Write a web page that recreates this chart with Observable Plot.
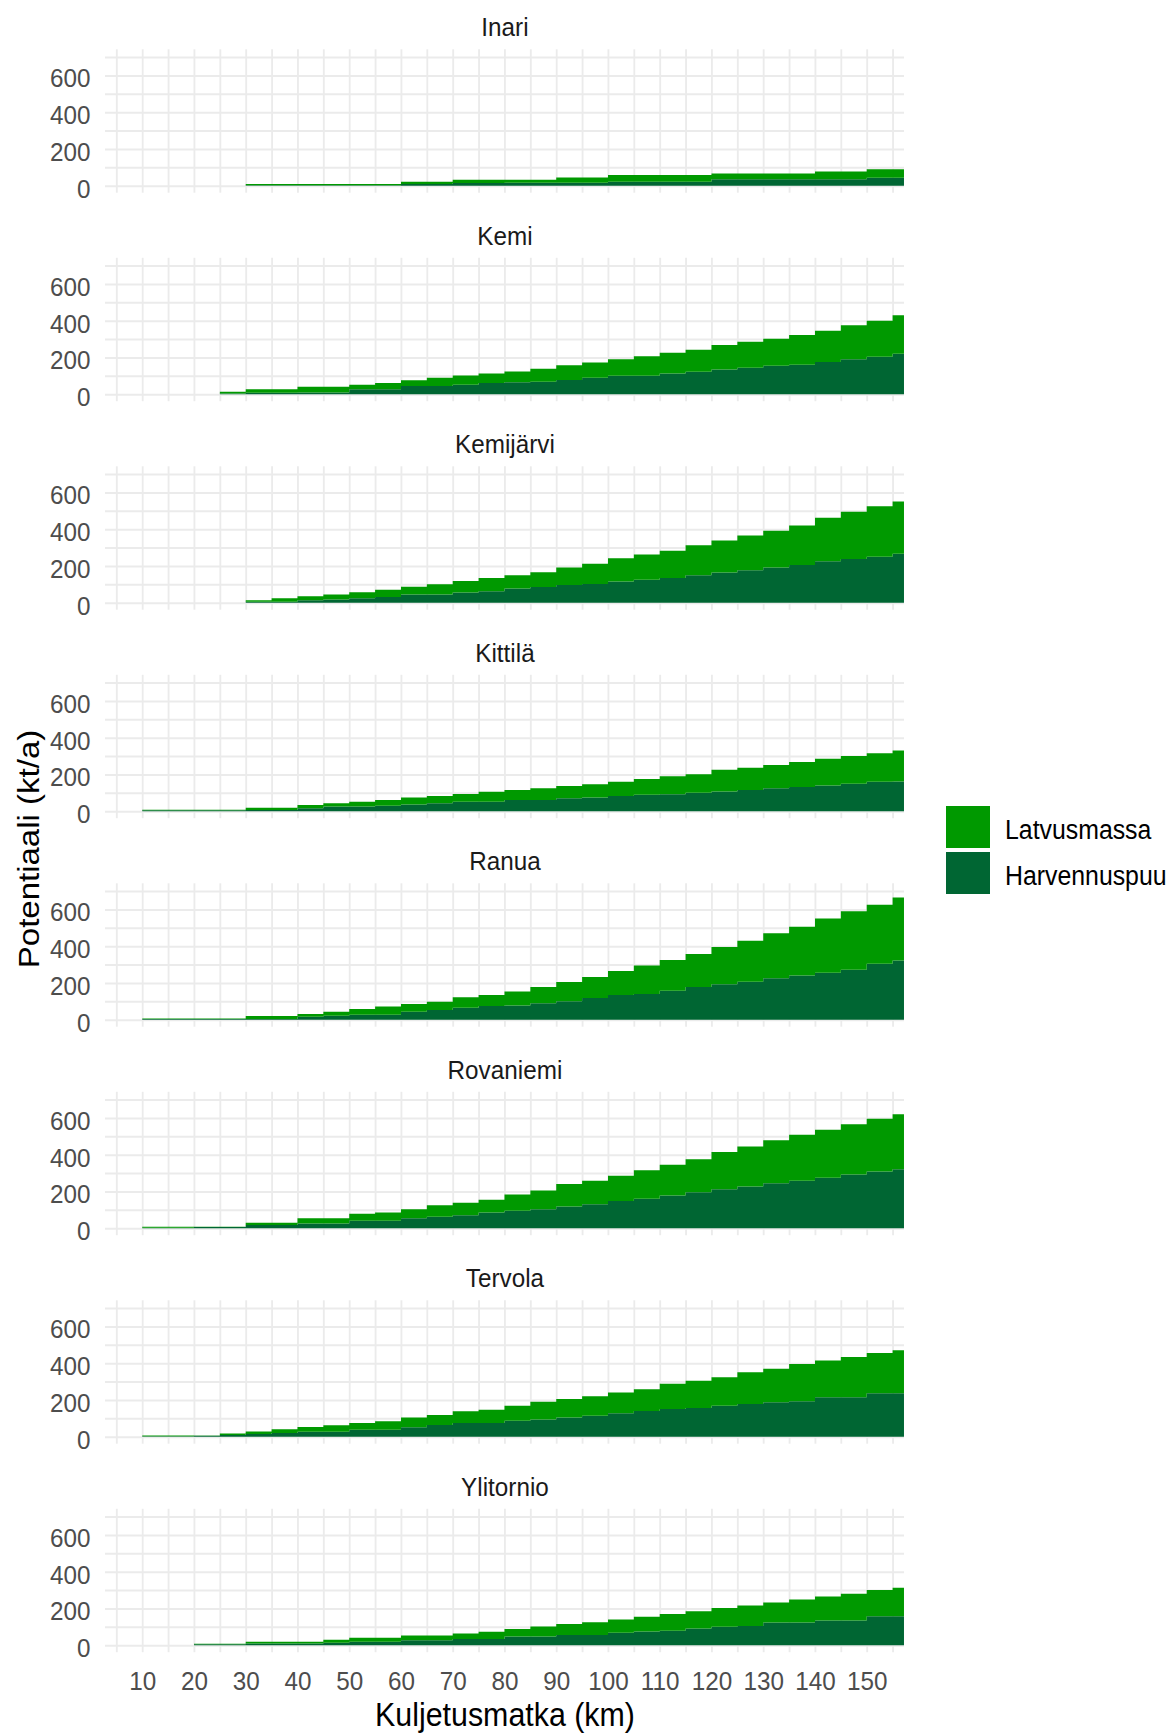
<!DOCTYPE html>
<html>
<head>
<meta charset="utf-8">
<script src="https://cdn.jsdelivr.net/npm/d3@7"></script>
<script src="https://cdn.jsdelivr.net/npm/@observablehq/plot@0.6"></script>
<style>
  html, body { margin: 0; padding: 0; background: #ffffff; }
  body { font-family: "Liberation Sans", Arial, sans-serif; }
  #wrap { position: relative; width: 1172px; height: 1733px; overflow: hidden; background: #fff; }
  #chart { position: absolute; left: 0; top: 0; }
  .lbl { position: absolute; white-space: nowrap; line-height: 1; }
  .key { position: absolute; width: 44px; height: 42px; }
</style>
</head>
<body>
<div id="wrap">
  <div id="chart"></div>
</div>
<script>
// ---------- data ----------
const facetNames = ["Inari", "Kemi", "Kemijärvi", "Kittilä", "Ranua", "Rovaniemi", "Tervola", "Ylitornio"];
const seriesNames = ["Latvusmassa", "Harvennuspuu"];
const seriesColors = ["#009900", "#006633"];
const xTicks = [10, 20, 30, 40, 50, 60, 70, 80, 90, 100, 110, 120, 130, 140, 150];
const yTicks = [0, 200, 400, 600];
const xTitle = "Kuljetusmatka (km)";
const yTitle = "Potentiaali (kt/a)";

// first distance band (km) of each area, bands are 5 km wide
const startKm = [30, 25, 30, 10, 10, 10, 10, 20];
const bandKm = 5;

const harvInari = [3,3,3,3,3,3,10,10,15,15,16,16,16,16,22,22,22,22,35,35,35,35,35,35,44,44];
const latvInari = [7,7,7,7,7,7,12,12,17,17,16,16,29,29,36,36,36,36,32,32,32,32,43,43,46,46];

const harvKemi = [4,8,8,10,10,27,27,45,45,52,61,65,68,78,89,100,100,113,122,135,144,155,160,175,190,204,220];
const latvKemi = [10,19,19,31,31,25,34,31,44,50,52,59,70,80,83,90,106,112,120,133,141,147,162,170,185,196,210];

const harvKemijarvi = [5,5,13,18,24,31,45,45,55,62,78,85,96,102,115,125,135,150,165,176,192,205,225,238,250,266];
const latvKemijarvi = [8,19,22,27,33,39,42,55,63,72,72,81,96,110,127,137,147,162,173,189,200,215,237,257,275,284];

const harvKittila = [5,5,5,5,6,6,16,25,25,30,37,43,52,52,61,61,70,75,83,90,92,101,107,116,125,132,140,150,160,161];
const latvKittila = [3,3,3,3,13,13,18,18,27,31,37,40,42,54,55,64,67,71,77,85,98,100,118,120,127,136,145,150,155,169];

const harvRanua = [4,4,4,4,4,4,16,22,27,27,44,53,65,75,78,90,100,118,135,140,158,178,193,207,225,240,255,272,305,322];
const latvRanua = [2,2,2,2,16,16,15,22,31,45,41,45,57,60,75,88,105,114,130,155,167,180,202,223,245,265,295,318,320,343];

const harvRovaniemi = [3,3,6,6,18,18,26,26,41,41,54,63,70,85,95,103,118,130,148,160,178,195,212,227,245,258,275,292,308,321];
const latvRovaniemi = [5,5,2,2,12,12,28,28,37,44,49,62,68,70,88,102,122,128,137,155,167,180,203,218,233,250,260,273,287,299];

const harvTervola = [2,2,5,9,15,20,27,27,38,38,51,64,75,75,87,94,105,114,128,140,151,156,169,178,187,193,215,215,236,236];
const latvTervola = [5,5,2,9,14,20,26,35,37,46,54,54,63,72,81,96,100,106,112,118,137,149,155,173,182,203,200,218,219,234];

const harvYlitornio = [5,5,10,10,10,13,19,19,27,27,34,34,48,48,56,56,68,75,79,91,100,105,123,123,134,134,157,157];
const latvYlitornio = [3,3,9,9,9,17,21,21,26,26,30,39,40,54,60,69,72,80,91,94,102,111,109,125,131,146,143,155];

const harvennuspuu = [harvInari, harvKemi, harvKemijarvi, harvKittila, harvRanua, harvRovaniemi, harvTervola, harvYlitornio];
const latvusmassa = [latvInari, latvKemi, latvKemijarvi, latvKittila, latvRanua, latvRovaniemi, latvTervola, latvYlitornio];

// ---------- layout ----------
const SQ = 0.92;            // horizontal squeeze of the reference picture
const W = 1022, H = 1733;   // unsqueezed plot size
const xDomain = [2.8, 157.2];
const yDomain = [-38, 742];

// ---------- table ----------
const rows = [];
facetNames.forEach((f, i) => {
  const hs = harvennuspuu[i], ls = latvusmassa[i];
  const pts = hs.map((h, j) => ({km: startKm[i] + j * bandKm, h, l: ls[j]}));
  pts.push({km: xDomain[1], h: hs[hs.length - 1], l: ls[ls.length - 1]});
  for (const p of pts) {
    rows.push({facet: f, series: "Harvennuspuu", km: p.km, y1: 0, y2: p.h});
    rows.push({facet: f, series: "Latvusmassa", km: p.km, y1: p.h, y2: p.h + p.l});
  }
});

const gridX = d3.range(5, 160, 5);
const gridY = d3.range(0, 800, 100);

const chart = Plot.plot({
  width: W,
  height: H,
  marginLeft: 114.1,
  marginRight: 39.4,
  marginTop: 49.3,
  marginBottom: 80.8,
  style: {fontFamily: "'Liberation Sans', Arial, sans-serif", fontSize: "26.4px", color: "#4D4D4D", background: "#ffffff"},
  x: {domain: xDomain, ticks: xTicks, tickSize: 0, tickPadding: 19, label: null, tickFormat: d => String(d)},
  y: {domain: yDomain, label: null},
  fy: {domain: facetNames, paddingInner: 0.3122, paddingOuter: 0, axis: null, label: null, round: false},
  color: {domain: seriesNames, range: seriesColors},
  marks: [
    Plot.ruleX(gridX, {stroke: "#EBEBEB", strokeWidth: 2}),
    Plot.ruleY(gridY, {stroke: "#EBEBEB", strokeWidth: 2}),
    Plot.areaY(rows, {x: "km", y1: "y1", y2: "y2", z: "series", fill: "series", fy: "facet", curve: "step-after", clip: true}),
    Plot.axisY(yTicks, {tickSize: 0, tickPadding: 16.3, dy: 3, label: null, tickFormat: d => String(d)}),
    Plot.text(facetNames, {fy: d => d, text: d => d, frameAnchor: "top", dy: -22, lineAnchor: "middle", fill: "#1A1A1A", fontSize: 26.4})
  ]
});

chart.setAttribute("preserveAspectRatio", "none");
chart.setAttribute("width", W * SQ);
chart.setAttribute("height", H);
chart.style.width = (W * SQ) + "px";
chart.style.height = H + "px";
chart.style.maxWidth = "none";
document.getElementById("chart").appendChild(chart);

// ---------- titles & legend (html) ----------
const wrap = document.getElementById("wrap");
function addLabel(text, left, top, size, color, transform) {
  const d = document.createElement("div");
  d.className = "lbl";
  d.textContent = text;
  d.style.left = left + "px";
  d.style.top = top + "px";
  d.style.fontSize = size + "px";
  d.style.color = color;
  d.style.transform = transform;
  wrap.appendChild(d);
  return d;
}
addLabel(xTitle, 505, 1714, 33, "#000", `translate(-50%,-50%) scaleX(${SQ})`);
addLabel(yTitle, 27.6, 849, 33, "#000", `translate(-50%,-50%) scaleX(${SQ}) rotate(-90deg)`);

seriesNames.forEach((s, i) => {
  const k = document.createElement("div");
  k.className = "key";
  k.style.left = "946px";
  k.style.top = (806 + i * 46) + "px";
  k.style.background = seriesColors[i];
  wrap.appendChild(k);
  const t = addLabel(s, 1005, 830 + i * 46, 27, "#000", `translateY(-50%) scaleX(${SQ})`);
  t.style.transformOrigin = "0 50%";
});
</script>
</body>
</html>
